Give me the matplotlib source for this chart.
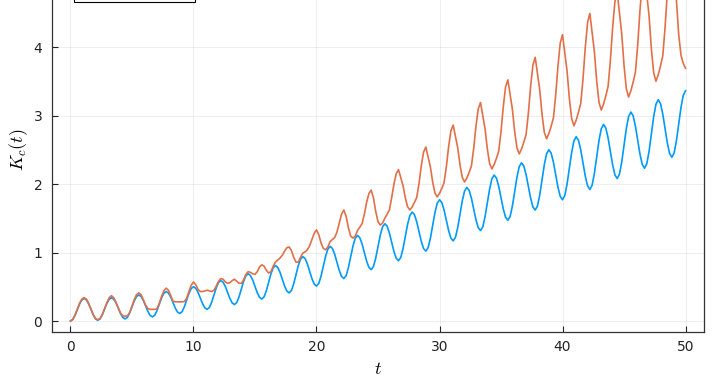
import numpy as np
import matplotlib.pyplot as plt
from matplotlib.patches import Rectangle

plt.rcParams['mathtext.fontset'] = 'cm'
plt.rcParams['font.family'] = ['DejaVu Sans']

# time grid (12 samples per oscillation period)
t = np.linspace(0, 50, 271)

# K_c(t), first curve (blue), one period per line
k_blue = [
    0.000, 0.022, 0.083, 0.165, 0.248, 0.308, 0.330, 0.309, 0.250, 0.170, 0.090, 0.031,
    0.010, 0.032, 0.093, 0.175, 0.258, 0.318, 0.340, 0.319, 0.263, 0.185, 0.108, 0.051,
    0.030, 0.053, 0.118, 0.205, 0.293, 0.357, 0.380, 0.359, 0.300, 0.220, 0.140, 0.081,
    0.060, 0.085, 0.153, 0.245, 0.338, 0.405, 0.430, 0.409, 0.350, 0.270, 0.190, 0.131,
    0.110, 0.136, 0.208, 0.305, 0.403, 0.474, 0.500, 0.478, 0.418, 0.335, 0.253, 0.192,
    0.170, 0.198, 0.275, 0.380, 0.485, 0.562, 0.590, 0.567, 0.503, 0.415, 0.328, 0.263,
    0.240, 0.270, 0.353, 0.465, 0.578, 0.660, 0.690, 0.665, 0.598, 0.505, 0.413, 0.345,
    0.320, 0.353, 0.443, 0.565, 0.688, 0.777, 0.810, 0.783, 0.710, 0.610, 0.510, 0.437,
    0.410, 0.446, 0.543, 0.675, 0.808, 0.904, 0.940, 0.911, 0.833, 0.725, 0.618, 0.539,
    0.510, 0.549, 0.655, 0.800, 0.945, 1.051, 1.090, 1.059, 0.973, 0.855, 0.738, 0.651,
    0.620, 0.662, 0.778, 0.935, 1.093, 1.208, 1.250, 1.217, 1.125, 1.000, 0.875, 0.784,
    0.750, 0.795, 0.918, 1.085, 1.253, 1.375, 1.420, 1.384, 1.285, 1.150, 1.015, 0.916,
    0.880, 0.928, 1.058, 1.235, 1.413, 1.542, 1.590, 1.552, 1.448, 1.305, 1.163, 1.058,
    1.020, 1.070, 1.208, 1.395, 1.583, 1.720, 1.770, 1.730, 1.620, 1.470, 1.320, 1.210,
    1.170, 1.222, 1.365, 1.560, 1.755, 1.898, 1.950, 1.908, 1.793, 1.635, 1.478, 1.362,
    1.320, 1.374, 1.523, 1.725, 1.928, 2.076, 2.130, 2.086, 1.965, 1.800, 1.635, 1.514,
    1.470, 1.526, 1.680, 1.890, 2.100, 2.254, 2.310, 2.264, 2.138, 1.965, 1.793, 1.666,
    1.620, 1.679, 1.840, 2.060, 2.280, 2.441, 2.500, 2.451, 2.318, 2.135, 1.953, 1.819,
    1.770, 1.832, 2.000, 2.230, 2.460, 2.628, 2.690, 2.638, 2.498, 2.305, 2.113, 1.972,
    1.920, 1.984, 2.158, 2.395, 2.633, 2.806, 2.870, 2.817, 2.673, 2.475, 2.278, 2.133,
    2.080, 2.145, 2.323, 2.565, 2.808, 2.985, 3.050, 2.995, 2.845, 2.640, 2.435, 2.285,
    2.230, 2.297, 2.480, 2.730, 2.980, 3.163, 3.230, 3.174, 3.020, 2.810, 2.600, 2.446,
    2.390, 2.455, 2.633, 2.875, 3.118, 3.295, 3.360,
]

# K_c(t), second curve (orange)
k_red = [
    0.000, 0.022, 0.085, 0.170, 0.260, 0.320, 0.340, 0.320, 0.255, 0.172, 0.092, 0.035,
    0.020, 0.035, 0.095, 0.180, 0.270, 0.340, 0.370, 0.340, 0.270, 0.190, 0.115, 0.075,
    0.070, 0.075, 0.125, 0.215, 0.310, 0.385, 0.410, 0.385, 0.310, 0.230, 0.180, 0.170,
    0.170, 0.170, 0.180, 0.260, 0.360, 0.440, 0.480, 0.450, 0.370, 0.290, 0.280, 0.280,
    0.280, 0.280, 0.285, 0.330, 0.430, 0.520, 0.570, 0.530, 0.460, 0.430, 0.430, 0.440,
    0.450, 0.440, 0.430, 0.450, 0.510, 0.580, 0.620, 0.610, 0.570, 0.550, 0.560, 0.590,
    0.610, 0.580, 0.550, 0.550, 0.600, 0.680, 0.720, 0.710, 0.690, 0.680, 0.720, 0.790,
    0.820, 0.800, 0.740, 0.700, 0.720, 0.800, 0.860, 0.890, 0.920, 0.960, 1.020, 1.070,
    1.080, 1.030, 0.930, 0.860, 0.860, 0.930, 0.990, 1.010, 1.040, 1.100, 1.190, 1.280,
    1.330, 1.260, 1.140, 1.060, 1.040, 1.080, 1.160, 1.190, 1.220, 1.300, 1.430, 1.560,
    1.620, 1.530, 1.360, 1.240, 1.210, 1.240, 1.320, 1.370, 1.420, 1.560, 1.730, 1.860,
    1.910, 1.800, 1.600, 1.450, 1.400, 1.430, 1.500, 1.560, 1.620, 1.800, 2.000, 2.150,
    2.210, 2.092, 1.974, 1.797, 1.667, 1.620, 1.666, 1.730, 1.804, 2.006, 2.264, 2.466,
    2.540, 2.394, 2.248, 2.029, 1.868, 1.810, 1.863, 1.936, 2.020, 2.251, 2.545, 2.776,
    2.860, 2.694, 2.528, 2.279, 2.096, 2.030, 2.088, 2.169, 2.262, 2.517, 2.842, 3.097,
    3.190, 2.996, 2.802, 2.511, 2.298, 2.220, 2.285, 2.376, 2.480, 2.766, 3.130, 3.416,
    3.520, 3.304, 3.088, 2.764, 2.526, 2.440, 2.511, 2.609, 2.722, 3.032, 3.427, 3.737,
    3.850, 3.612, 3.374, 3.017, 2.755, 2.660, 2.736, 2.842, 2.964, 3.298, 3.724, 4.058,
    4.180, 3.914, 3.648, 3.249, 2.956, 2.850, 2.932, 3.047, 3.178, 3.539, 3.998, 4.359,
    4.490, 4.208, 3.926, 3.503, 3.193, 3.080, 3.166, 3.286, 3.424, 3.802, 4.284, 4.662,
    4.800, 4.494, 4.188, 3.729, 3.392, 3.270, 3.361, 3.487, 3.632, 4.030, 4.537, 4.935,
    5.080, 4.764, 4.448, 3.974, 3.626, 3.500, 3.593, 3.722, 3.870, 4.277, 4.795, 5.202,
    5.350, 5.016, 4.680, 4.180, 3.880, 3.760, 3.690,
]

xticks = [0, 10, 20, 30, 40, 50]
yticks = [0, 1, 2, 3, 4]   # 5 lies above the cropped canvas

W, H = 718, 385
fig = plt.figure(figsize=(W / 100, H / 100), dpi=100)

# axes box: the top of the plot sits above the visible canvas (picture is cropped)
ymin, ymax = -0.1605, 5.5105
px_per_unit = 68.5
top_px = 321 - ymax * px_per_unit
ax_h = 332 - top_px
ax = fig.add_axes([52 / W, (H - 332) / H, (704 - 52) / W, ax_h / H])

ax.plot(t, k_blue, color='#009afa', linewidth=1.2)
ax.plot(t, k_red, color='#e36f47', linewidth=1.2)

ax.set_xlim(-1.5, 51.5)
ax.set_ylim(ymin, ymax)
ax.set_xticks(xticks)
ax.set_yticks(yticks)
ax.grid(color='black', alpha=0.08, linewidth=0.6)
ax.tick_params(direction='in', length=4, width=0.8, labelsize=10, colors='#222222')
ax.tick_params(axis='y', pad=7)
ax.tick_params(axis='x', pad=6)
for s in ax.spines.values():
    s.set_color('#333333')
    s.set_linewidth(0.9)

ax.set_xlabel('$t$', fontsize=13)
ax.set_ylabel('$K_c(t)$', fontsize=13)
ax.xaxis.set_label_coords(0.5, (332 - 360) / ax_h)
ax.yaxis.set_label_coords((30 - 52) / (704 - 52), (332 - 150) / ax_h)

# legend frame, only its lower edge is inside the crop
fig.patches.append(Rectangle((74 / W, (H - 1.5) / H), (195 - 74) / W, 40 / H,
                             transform=fig.transFigure, facecolor='white',
                             edgecolor='black', linewidth=0.8))

fig.savefig('out.png', dpi=100)
